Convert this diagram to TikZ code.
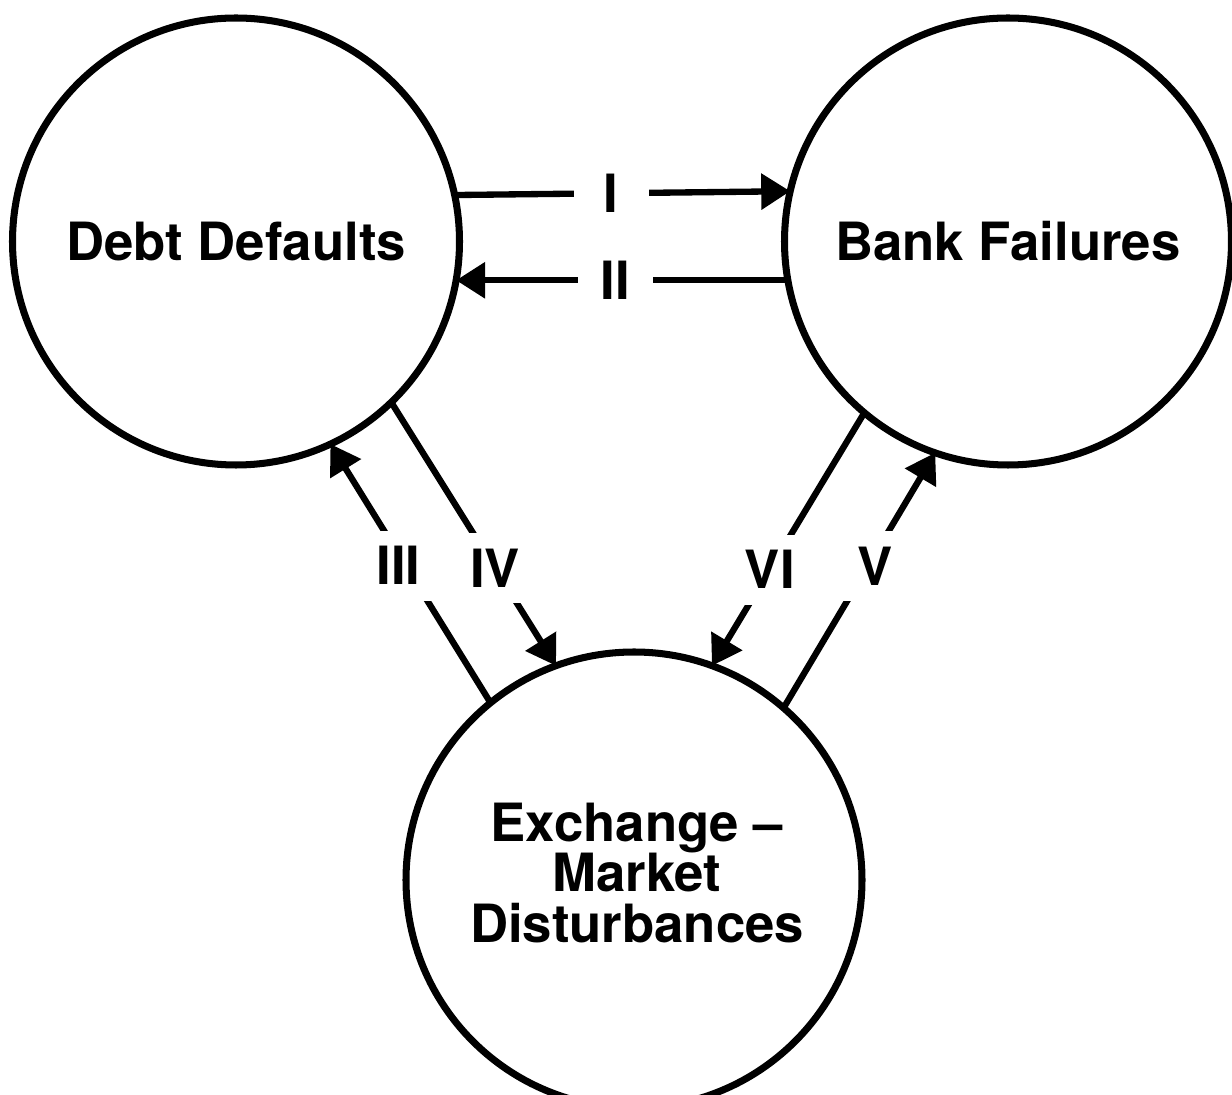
\documentclass[tikz,border=0pt]{standalone}
\usepackage{fontspec}
\setmainfont{TeX Gyre Heros}
\usetikzlibrary{arrows.meta}

\newcommand{\bigfont}{\fontsize{30pt}{29pt}\selectfont\bfseries}
\tikzset{
  sector/.style={draw,circle,line width=4pt,inner sep=0pt,outer sep=0pt,align=center,font=\bigfont},
  link/.style={line width=3.6pt},
  tip/.style={-{Triangle[length=5.8mm,width=7mm]}},
  tag/.style={fill=white,inner sep=0pt,minimum width=1.5cm,minimum height=1.4cm,font=\bigfont},
}

\begin{document}
\begin{tikzpicture}
%\draw[step=1cm,gray,very thin] (0,0) grid (24,21);
\useasboundingbox (0,0) rectangle (24.64,21.9);
\node[sector,minimum size=8.94cm] (debt) at (4.72,17.07) {Debt Defaults};
\node[sector,minimum size=8.94cm] (bank) at (20.16,17.07) {Bank Failures};
\node[sector,minimum size=9.12cm] (exch) at (12.68,4.30) {};
\node[font=\bigfont,align=center] (exchtxt) at (12.74,4.44) {Exchange --\\Market\\Disturbances};
% top pair
\draw[link,tip] (debt.12.4) -- node[tag,pos=0.466] (lI) {I} (bank.167.6);
\draw[link,tip] (bank.190.7) -- node[tag,pos=0.52] (lII) {II} (debt.-10.7);
% left pair
\draw[link,tip] (exch.129.9) -- node[tag,pos=0.53,xshift=-4pt] (lIII) {III} (debt.-65.4);
\draw[link,tip] (debt.-46.2) -- node[tag,pos=0.63] (lIV) {IV} (exch.110.1);
% right pair
\draw[link,tip] (exch.49.8) -- node[tag,pos=0.556,xshift=4pt] (lV) {V} (bank.-109.6);
\draw[link,tip] (bank.-130.3) -- node[tag,pos=0.62] (lVI) {VI} (exch.70.6);
\end{tikzpicture}
\end{document}
